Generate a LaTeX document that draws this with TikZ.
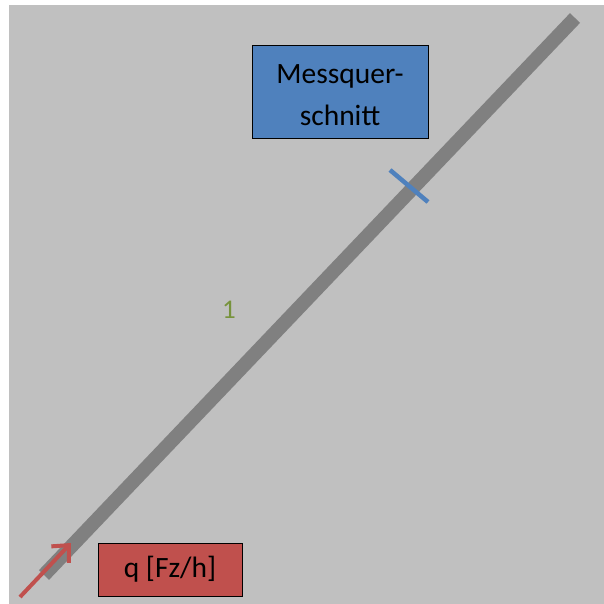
\documentclass[tikz,border=0pt]{standalone}
\usepackage{fontspec}
\setmainfont{Carlito}
\usetikzlibrary{arrows.meta}
\definecolor{bggray}{RGB}{192,192,192}
\definecolor{rodgray}{RGB}{128,128,128}
\definecolor{msblue}{RGB}{79,129,189}
\definecolor{msred}{RGB}{192,80,77}
\definecolor{msgreen}{RGB}{119,147,60}
\tikzset{
  labelbox/.style={draw=black, line width=0.8pt, inner sep=0pt, align=center, font=\fontsize{29.5}{42}\selectfont},
}
\begin{document}
\begin{tikzpicture}[x=1pt,y=-1pt]
\useasboundingbox (0,0) rectangle (604,604);
\fill[bggray] (9,5) rectangle (604,604);
\coordinate (rodA) at (44,575);
\coordinate (rodB) at (575,18);
\draw[rodgray, line width=14pt] (rodA) -- (rodB);
\coordinate (tickA) at (390,170);
\coordinate (tickB) at (428,202);
\draw[msblue, line width=4.5pt] (tickA) -- (tickB);
\coordinate (arrS) at (20,597);
\coordinate (arrE) at (71,543);
\draw[msred, line width=4pt, -{Straight Barb[length=13pt,width=24pt,line width=4pt]}] (arrS) -- (arrE);
\node[labelbox, fill=msblue, minimum width=176pt, minimum height=93pt] (mq) at (340,91.5) {};
\node[align=center, font=\fontsize{29.5}{42}\selectfont, inner sep=0pt] (mqtext) at (340,95) {Messquer-\\schnitt};
\node[labelbox, fill=msred, minimum width=144pt, minimum height=53pt] (q) at (170,569.5) {q [Fz/h]};
\node[text=msgreen, font=\fontsize{27}{30}\selectfont] (one) at (229,310) {1};
\end{tikzpicture}
\end{document}
